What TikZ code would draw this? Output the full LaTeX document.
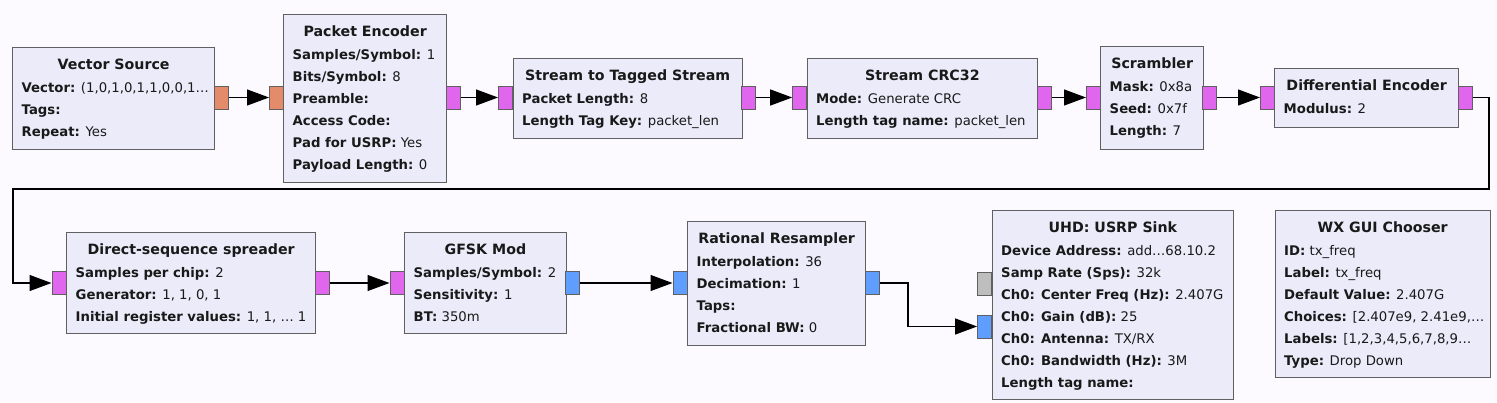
\documentclass[tikz,border=0pt]{standalone}
\usepackage{fontspec}
\setmainfont{DejaVu Sans}
\usetikzlibrary{arrows.meta,calc}
\definecolor{bgc}{RGB}{252,250,254}
\definecolor{boxfill}{RGB}{235,235,250}
\definecolor{boxdraw}{RGB}{96,96,96}
\definecolor{porange}{RGB}{228,139,107}
\definecolor{pmagenta}{RGB}{225,102,238}
\definecolor{pblue}{RGB}{95,157,255}
\definecolor{pgray}{RGB}{190,190,190}
\definecolor{txt}{RGB}{25,25,25}
\newcommand\kv[2]{\textbf{#1:} #2}
\tikzset{
  blk/.style={draw=boxdraw, fill=boxfill, line width=1.3pt, anchor=north west, inner sep=0pt},
  ttl/.style={anchor=base, inner sep=0pt, font=\fontsize{14.2}{16}\selectfont\bfseries, text=txt},
  row/.style={anchor=base west, inner sep=0pt, font=\fontsize{13.25}{15}\selectfont, text=txt},
  port/.style={draw=boxdraw, line width=1pt, minimum width=14pt, minimum height=23pt, inner sep=0pt},
  conn/.style={draw=black, line width=1.2pt, -{Triangle[length=22pt,width=16pt]}},
}
\newcommand\mkblock[7]{%
  \node[blk, minimum width=#4pt, minimum height=#5pt] (#1) at (#2,#3) {};
  \node[ttl] (#1-t) at ($(#1.north)+(0,22)$) {#6};
  \foreach \r [count=\i from 0] in {#7} {%
    \node[row] (#1-r\i) at ([xshift=9.5pt,yshift={-45pt-22pt*\i}]#1.north west) {\r};
  }%
}
\begin{document}
\begin{tikzpicture}[x=1pt,y=-1pt]
\fill[bgc] (0,0) rectangle (1497,402);
\useasboundingbox (0,0) rectangle (1497,402);

\mkblock{vs}{12}{47}{202}{102}{Vector Source}{{\kv{Vector}{(1,0,1,0,1,1,0,0,1…}},{\kv{Tags}{}},{\kv{Repeat}{Yes}}}
\mkblock{pe}{283}{14}{163}{168}{Packet Encoder}{{\kv{Samples/Symbol}{1}},{\kv{Bits/Symbol}{8}},{\kv{Preamble}{}},{\kv{Access Code}{}},{\kv{Pad for USRP}{Yes}},{\kv{Payload Length}{0}}}
\mkblock{tts}{512.5}{58}{229}{80}{Stream to Tagged Stream}{{\kv{Packet Length}{8}},{\kv{Length Tag Key}{packet\_len}}}
\mkblock{crc}{806.5}{58}{230.5}{80}{Stream CRC32}{{\kv{Mode}{Generate CRC}},{\kv{Length tag name}{packet\_len}}}
\mkblock{scr}{1100}{46}{103}{103}{Scrambler}{{\kv{Mask}{0x8a}},{\kv{Seed}{0x7f}},{\kv{Length}{7}}}
\mkblock{de}{1274}{68}{184}{59}{Differential Encoder}{{\kv{Modulus}{2}}}
\mkblock{dss}{66}{232}{249}{101}{Direct-sequence spreader}{{\kv{Samples per chip}{2}},{\kv{Generator}{1, 1, 0, 1}},{\kv{Initial register values}{1, 1, … 1}}}
\mkblock{gfsk}{404}{232}{161.5}{101}{GFSK Mod}{{\kv{Samples/Symbol}{2}},{\kv{Sensitivity}{1}},{\kv{BT}{350m}}}
\mkblock{rr}{687}{221}{178}{124}{Rational Resampler}{{\kv{Interpolation}{36}},{\kv{Decimation}{1}},{\kv{Taps}{}},{\kv{Fractional BW}{0}}}
\mkblock{usrp}{991.5}{210}{241.5}{189}{UHD: USRP Sink}{{\kv{Device Address}{add…68.10.2}},{\kv{Samp Rate (Sps)}{32k}},{\kv{Ch0: Center Freq (Hz)}{2.407G}},{\kv{Ch0: Gain (dB)}{25}},{\kv{Ch0: Antenna}{TX/RX}},{\kv{Ch0: Bandwidth (Hz)}{3M}},{\kv{Length tag name}{}}}
\mkblock{wx}{1274.5}{210}{215}{167}{WX GUI Chooser}{{\kv{ID}{tx\_freq}},{\kv{Label}{tx\_freq}},{\kv{Default Value}{2.407G}},{\kv{Choices}{[2.407e9, 2.41e9,…}},{\kv{Labels}{[1,2,3,4,5,6,7,8,9…}},{\kv{Type}{Drop Down}}}

% ports
\node[port, fill=porange]  (vs-o)   at (221,97.5) {};
\node[port, fill=porange]  (pe-i)   at (276.5,97.5) {};
\node[port, fill=pmagenta] (pe-o)   at (453,97.5) {};
\node[port, fill=pmagenta] (tts-i)  at (505.5,97.5) {};
\node[port, fill=pmagenta] (tts-o)  at (748.2,97.5) {};
\node[port, fill=pmagenta] (crc-i)  at (799.7,97.5) {};
\node[port, fill=pmagenta] (crc-o)  at (1044,97.5) {};
\node[port, fill=pmagenta] (scr-i)  at (1093.5,97.5) {};
\node[port, fill=pmagenta] (scr-o)  at (1209.5,97.5) {};
\node[port, fill=pmagenta] (de-i)   at (1267.5,97.5) {};
\node[port, fill=pmagenta] (de-o)   at (1465,97.5) {};
\node[port, fill=pmagenta] (dss-i)  at (59,283) {};
\node[port, fill=pmagenta] (dss-o)  at (322,283) {};
\node[port, fill=pmagenta] (gfsk-i) at (397,283) {};
\node[port, fill=pblue]    (gfsk-o) at (572.6,283) {};
\node[port, fill=pblue]    (rr-i)   at (680,283) {};
\node[port, fill=pblue]    (rr-o)   at (872,283) {};
\node[port, fill=pgray]    (usrp-m) at (984.6,283.5) {};
\node[port, fill=pblue]    (usrp-i) at (984.6,326.5) {};

% connections
\coordinate (w1) at (1489,97.5);
\coordinate (w2) at (1489,189);
\coordinate (w3) at (13,189);
\coordinate (w4) at (13,283);
\coordinate (w5) at (908,283);
\coordinate (w6) at (908,326.5);
\draw[conn] (vs-o.east) -- (pe-i.west);
\draw[conn] (pe-o.east) -- (tts-i.west);
\draw[conn] (tts-o.east) -- (crc-i.west);
\draw[conn] (crc-o.east) -- (scr-i.west);
\draw[conn] (scr-o.east) -- (de-i.west);
\draw[conn] (de-o.east) -- (w1) -- (w2) -- (w3) -- (w4) -- (dss-i.west);
\draw[conn] (dss-o.east) -- (gfsk-i.west);
\draw[conn] (gfsk-o.east) -- (rr-i.west);
\draw[conn] (rr-o.east) -- (w5) -- (w6) -- (usrp-i.west);
\end{tikzpicture}
\end{document}
